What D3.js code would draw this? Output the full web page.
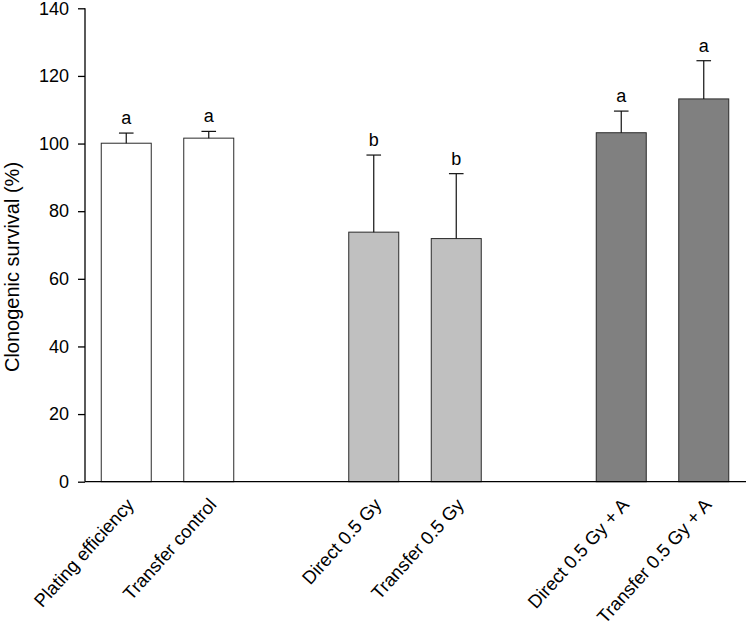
<!DOCTYPE html>
<html>
<head>
<meta charset="utf-8">
<script src="https://cdn.jsdelivr.net/npm/d3@7"></script>
<style>
  body { margin: 0; background: #fff; }
  text { font-family: "Liberation Sans", Arial, sans-serif; }
</style>
</head>
<body>
<div id="chart"></div>
<script>
// chart data
const categories = ['Plating efficiency', 'Transfer control', 'Direct 0.5 Gy', 'Transfer 0.5 Gy', 'Direct 0.5 Gy + A', 'Transfer 0.5 Gy + A'];
const groups = [0, 0, 1, 1, 2, 2];
const means = [100.1, 101.6, 73.8, 71.9, 103.2, 113.2];
const errors = [3.0, 2.0, 22.8, 19.2, 6.4, 11.3];
const letters = ['a', 'a', 'b', 'b', 'a', 'a'];
const groupFills = ['#ffffff', '#c0c0c0', '#808080'];
const yTicks = [0, 20, 40, 60, 80, 100, 120, 140];

const width = 747, height = 626;
const margin = { top: 8.3, right: 2, bottom: 144.3, left: 85 };
const plotH = height - margin.top - margin.bottom;

const svg = d3.select('#chart').append('svg')
    .attr('width', width)
    .attr('height', height);

const g = svg.append('g').attr('transform', `translate(0,${margin.top})`);

// slots: each group of two bars is followed by an empty slot
const slotOf = (i) => i + groups[i];
const x = d3.scaleBand()
    .domain(d3.range(8))
    .range([margin.left, 745])
    .paddingInner(0.394)
    .paddingOuter(0.197);

const y = d3.scaleLinear()
    .domain([0, 140])
    .range([plotH, 0]);

const bw = x.bandwidth();

// bars
g.selectAll('.bar')
    .data(means)
    .enter().append('rect')
    .attr('class', 'bar')
    .attr('x', (d, i) => x(slotOf(i)))
    .attr('y', d => y(d))
    .attr('width', bw)
    .attr('height', d => y(0) - y(d))
    .attr('fill', (d, i) => groupFills[groups[i]])
    .attr('stroke', '#2a2a2a')
    .attr('stroke-width', 1);

// error bars (upper only)
const capHalf = 7.3;
means.forEach((m, i) => {
    const cx = x(slotOf(i)) + bw / 2;
    g.append('line')
        .attr('x1', cx).attr('x2', cx)
        .attr('y1', y(m)).attr('y2', y(m + errors[i]))
        .attr('stroke', '#111').attr('stroke-width', 1.2);
    g.append('line')
        .attr('x1', cx - capHalf).attr('x2', cx + capHalf)
        .attr('y1', y(m + errors[i])).attr('y2', y(m + errors[i]))
        .attr('stroke', '#111').attr('stroke-width', 1.2);
    g.append('text')
        .attr('x', cx)
        .attr('y', y(m + errors[i]) - 9)
        .attr('text-anchor', 'middle')
        .attr('font-size', '18px')
        .attr('fill', '#000')
        .text(letters[i]);
});

// y axis
const yAxis = g.append('g')
    .attr('transform', `translate(${margin.left},0)`)
    .call(d3.axisLeft(y).tickValues(yTicks).tickSize(7).tickPadding(9));
yAxis.select('.domain').attr('stroke', '#000').attr('stroke-width', 1.3).attr('d', `M-0,${y(140)}V${y(0)}`);
yAxis.selectAll('.tick line').attr('stroke', '#000').attr('stroke-width', 1.3);
yAxis.selectAll('.tick text')
    .attr('font-size', '18px')
    .attr('font-family', '"Liberation Sans", Arial, sans-serif')
    .attr('fill', '#000');

// x axis line
g.append('line')
    .attr('x1', margin.left).attr('x2', 746)
    .attr('y1', y(0)).attr('y2', y(0))
    .attr('stroke', '#000').attr('stroke-width', 1.3);

// category labels
categories.forEach((c, i) => {
    const cx = x(slotOf(i)) + bw / 2;
    g.append('text')
        .attr('transform', `translate(${cx - 1},${y(0) + 15}) rotate(-48)`)
        .attr('text-anchor', 'end')
        .attr('dy', '0.71em')
        .attr('font-size', '18.5px')
        .attr('fill', '#000')
        .text(c);
});

// y axis title
svg.append('text')
    .attr('transform', `translate(18.5,${margin.top + plotH / 2 + 22}) rotate(-90)`)
    .attr('text-anchor', 'middle')
    .attr('font-size', '20px')
    .attr('fill', '#000')
    .text('Clonogenic survival (%)');
</script>
</body>
</html>
